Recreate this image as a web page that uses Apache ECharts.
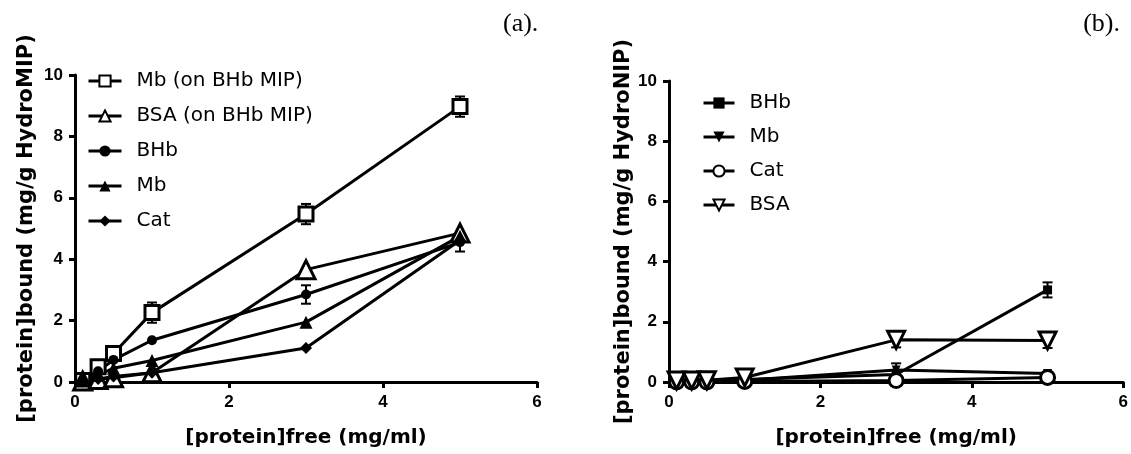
<!DOCTYPE html>
<html>
<head>
<meta charset="utf-8">
<script src="https://cdn.jsdelivr.net/npm/echarts@6/dist/echarts.min.js"></script>
<style>
  html, body { margin: 0; padding: 0; background: #fff; }
  #chart { width: 1131px; height: 454px; }
</style>
</head>
<body>
<div id="chart"></div>
<script>
// free protein concentration (mg/ml)
const concA = [0.1, 0.3, 0.5, 1, 3, 5];
const concB = [0.1, 0.3, 0.5, 1, 3, 5];

// (a) bound on HydroMIP
const mbMip = [0.05, 0.5, 0.93, 2.26, 5.47, 8.97];
const mbMipErr = [0, 0, 0, 0.33, 0.33, 0.33];
const bsaMip = [0.03, 0.08, 0.14, 0.3, 3.66, 4.85];
const bsaMipErr = [0, 0, 0, 0, 0, 0];
const bhbA = [0.05, 0.35, 0.72, 1.36, 2.85, 4.55];
const bhbAErr = [0, 0, 0, 0, 0.3, 0.3];
const mbA = [0.03, 0.22, 0.45, 0.7, 1.95, 4.75];
const catA = [0.02, 0.1, 0.18, 0.3, 1.11, 4.62];

// (b) bound on HydroNIP
const bhbB = [0.05, 0.05, 0.05, 0.08, 0.25, 3.06];
const bhbBErr = [0, 0, 0, 0, 0, 0.25];
const mbB = [0.03, 0.03, 0.04, 0.06, 0.4, 0.28];
const mbBErr = [0, 0, 0, 0, 0.22, 0];
const catB = [0, 0, 0, 0.02, 0.05, 0.15];
const bsaB = [0.05, 0.05, 0.06, 0.15, 1.4, 1.38];
const bsaBErr = [0, 0, 0, 0, 0.25, 0.25];

const namesA = ['Mb (on BHb MIP)', 'BSA (on BHb MIP)', 'BHb', 'Mb', 'Cat'];
const namesB = ['BHb', 'Mb', 'Cat', 'BSA'];
const NIP = ' (NIP)';

const invTri = 'path://M0,0 L10,0 L5,9 Z';

function pairs(xs, ys) { return xs.map((x, i) => [x, ys[i]]); }
function errData(xs, ys, es) {
  return xs.map((x, i) => [x, ys[i], es[i]]).filter(d => d[2] > 0);
}

function renderErr(params, api) {
  const x = api.value(0), y = api.value(1), e = api.value(2);
  const top = api.coord([x, y + e]);
  const bot = api.coord([x, y - e]);
  const w = 5;
  const st = { stroke: '#000', lineWidth: 2 };
  return {
    type: 'group',
    children: [
      { type: 'line', shape: { x1: top[0], y1: top[1], x2: bot[0], y2: bot[1] }, style: st },
      { type: 'line', shape: { x1: top[0] - w, y1: top[1], x2: top[0] + w, y2: top[1] }, style: st },
      { type: 'line', shape: { x1: bot[0] - w, y1: bot[1], x2: bot[0] + w, y2: bot[1] }, style: st }
    ]
  };
}

function errSeries(xs, ys, es, idx) {
  return {
    type: 'custom',
    xAxisIndex: idx, yAxisIndex: idx,
    renderItem: renderErr,
    encode: { x: 0, y: 1 },
    data: errData(xs, ys, es),
    z: 1,
    silent: true
  };
}

function lineSeries(name, xs, ys, idx, symbol, size, open) {
  return {
    name: name,
    type: 'line',
    xAxisIndex: idx, yAxisIndex: idx,
    data: pairs(xs, ys),
    symbol: symbol,
    symbolSize: size,
    showAllSymbol: true,
    lineStyle: { color: '#000', width: 3 },
    itemStyle: open
      ? { color: '#fff', borderColor: '#000', borderWidth: 3 }
      : { color: '#000', borderColor: '#000', borderWidth: 0 },
    emphasis: { disabled: true },
    z: 3
  };
}

const tickFont = { fontFamily: 'Liberation Sans', fontWeight: 'bold', fontSize: 17, color: '#000' };
const axisLine = { show: true, lineStyle: { color: '#000', width: 3 } };
const axisTick = { show: true, length: 6, lineStyle: { color: '#000', width: 3 } };
const legendText = { fontFamily: 'DejaVu Sans', fontSize: 20, color: '#000', padding: [0, 0, 0, 10] };

function xAxis(idx) {
  return {
    type: 'value', gridIndex: idx, min: 0, max: 6, interval: 2,
    name: '[protein]free (mg/ml)', nameLocation: 'middle', nameGap: 46,
    nameTextStyle: { fontFamily: 'DejaVu Sans', fontWeight: 'bold', fontSize: 20, color: '#000' },
    axisLine: axisLine, axisTick: axisTick,
    axisLabel: Object.assign({ margin: 12 }, tickFont),
    splitLine: { show: false }
  };
}
function yAxis(idx, name, gap) {
  return {
    type: 'value', gridIndex: idx, min: 0, max: 10, interval: 2,
    name: name, nameLocation: 'middle', nameGap: gap,
    nameTextStyle: { fontFamily: 'DejaVu Sans', fontWeight: 'bold', fontSize: 21, color: '#000' },
    axisLine: axisLine, axisTick: axisTick,
    axisLabel: Object.assign({ margin: 12 }, tickFont),
    splitLine: { show: false }
  };
}

const chart = echarts.init(document.getElementById('chart'));
chart.setOption({
  backgroundColor: '#fff',
  animation: false,
  title: [
    { text: '(a).', left: 498, top: 6, textStyle: { fontFamily: 'Liberation Serif', fontWeight: 'normal', fontSize: 26, color: '#000' } },
    { text: '(b).', right: 6, top: 6, textStyle: { fontFamily: 'Liberation Serif', fontWeight: 'normal', fontSize: 26, color: '#000' } }
  ],
  grid: [
    { left: 75, top: 75, width: 462, height: 307 },
    { left: 669, top: 81, width: 455, height: 301 }
  ],
  xAxis: [xAxis(0), xAxis(1)],
  yAxis: [
    yAxis(0, '[protein]bound (mg/g HydroMIP)', 38),
    yAxis(1, '[protein]bound (mg/g HydroNIP)', 34)
  ],
  legend: [
    {
      data: namesA,
      orient: 'vertical', left: 82, top: 66,
      itemWidth: 33, itemHeight: 14, itemGap: 15,
      lineStyle: { width: 3, color: '#000' },
      textStyle: legendText,
      selectedMode: false
    },
    {
      data: namesB.map(n => n + NIP),
      formatter: n => n.replace(NIP, ''),
      orient: 'vertical', left: 697, top: 88,
      itemWidth: 31, itemHeight: 14, itemGap: 14,
      lineStyle: { width: 3, color: '#000' },
      textStyle: legendText,
      selectedMode: false
    }
  ],
  series: [
    lineSeries(namesA[0], concA, mbMip, 0, 'rect', 14, true),
    lineSeries(namesA[1], concA, bsaMip, 0, 'triangle', 18, true),
    lineSeries(namesA[2], concA, bhbA, 0, 'circle', 10, false),
    lineSeries(namesA[3], concA, mbA, 0, 'triangle', 13, false),
    lineSeries(namesA[4], concA, catA, 0, 'diamond', 12, false),
    errSeries(concA, mbMip, mbMipErr, 0),
    errSeries(concA, bsaMip, bsaMipErr, 0),
    errSeries(concA, bhbA, bhbAErr, 0),
    lineSeries(namesB[0] + NIP, concB, bhbB, 1, 'rect', 9, false),
    lineSeries(namesB[1] + NIP, concB, mbB, 1, invTri, 9, false),
    lineSeries(namesB[2] + NIP, concB, catB, 1, 'circle', 14, true),
    lineSeries(namesB[3] + NIP, concB, bsaB, 1, invTri, 17, true),
    errSeries(concB, bhbB, bhbBErr, 1),
    errSeries(concB, mbB, mbBErr, 1),
    errSeries(concB, bsaB, bsaBErr, 1)
  ]
});
</script>
</body>
</html>
